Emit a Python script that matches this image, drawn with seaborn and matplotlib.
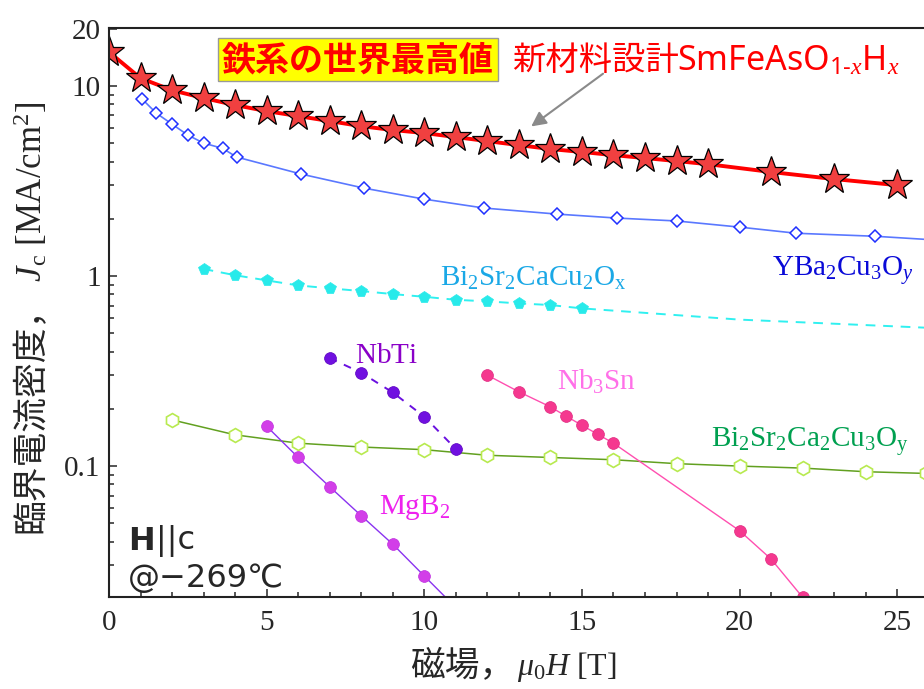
import numpy as np
import pandas as pd
import matplotlib
matplotlib.use("Agg")
import matplotlib.pyplot as plt
import seaborn as sns
from matplotlib.ticker import LogLocator, MultipleLocator, NullFormatter

sns.set_style("ticks")
plt.rcParams['font.family'] = ['Liberation Serif', 'Noto Sans CJK JP']
plt.rcParams['mathtext.fontset'] = 'custom'
plt.rcParams['mathtext.rm'] = 'Liberation Serif'
plt.rcParams['mathtext.it'] = 'Liberation Serif:italic'
plt.rcParams['mathtext.bf'] = 'Liberation Serif:bold'
plt.rcParams['mathtext.sf'] = 'Noto Sans'

# SmFeAsO1-xHx (stars)
sm_x = [0, 1, 2, 3, 4, 5, 6, 7, 8, 9, 10, 11, 12, 13, 14, 15, 16, 17, 18, 19, 21, 23, 25]
sm_y = [15.1, 11.0, 9.5, 8.65, 7.94, 7.38, 6.95, 6.54, 6.15, 5.87, 5.66, 5.39, 5.13,
        4.89, 4.66, 4.5, 4.33, 4.18, 4.03, 3.88, 3.53, 3.24, 3.01]

# YBa2Cu3Oy (open diamonds), last value is the end of the line only
ybco_x = [1.05, 1.5, 2.0, 2.5, 3.0, 3.6, 4.05, 6.1, 8.1, 10.0, 11.9, 14.2, 16.1, 18.0, 20.0, 21.8, 24.3, 25.9]
ybco_y = [8.54, 7.2, 6.3, 5.52, 5.01, 4.7, 4.23, 3.44, 2.9, 2.54, 2.28, 2.12, 2.02, 1.95, 1.81, 1.68, 1.62, 1.56]
ybco_n = 17

# Bi2Sr2CaCu2Ox (pentagons, dashed), last two values are line only
bi2212_x = [3, 4, 5, 6, 7, 8, 9, 10, 11, 12, 13, 14, 15, 20, 25.9]
bi2212_y = [1.09, 1.01, 0.949, 0.893, 0.862, 0.834, 0.804, 0.778, 0.75, 0.736, 0.718, 0.704, 0.676, 0.59, 0.535]
bi2212_n = 13

# NbTi (dashed)
nbti_x = [7, 8, 9, 10, 11]
nbti_y = [0.37, 0.31, 0.244, 0.182, 0.123]

# Nb3Sn
nb3sn_x = [12, 13, 14, 14.5, 15, 15.5, 16, 20, 21, 22]
nb3sn_y = [0.301, 0.246, 0.205, 0.183, 0.164, 0.147, 0.132, 0.0457, 0.0324, 0.0204]

# MgB2, last value is line only
mgb2_x = [5, 6, 7, 8, 9, 10, 11]
mgb2_y = [0.162, 0.111, 0.0778, 0.0548, 0.0388, 0.0264, 0.018]
mgb2_n = 6

# Bi2Sr2Ca2Cu3Oy (open hexagons)
bi2223_x = [2, 4, 6, 8, 10, 12, 14, 16, 18, 20, 22, 24, 25.9]
bi2223_y = [0.175, 0.146, 0.132, 0.126, 0.122, 0.114, 0.111, 0.108, 0.103, 0.1, 0.0976, 0.0934, 0.0915]

fig = plt.figure(figsize=(9.24, 6.89), dpi=100)
ax = fig.add_axes([0.118, 0.1335, 0.882, 0.8258])

sns.lineplot(x=bi2223_x, y=bi2223_y, ax=ax, color='#62a020', linewidth=1.1,
             marker='h', markersize=10, markerfacecolor='white',
             markeredgecolor='#b8ea50', markeredgewidth=1.2)
sns.lineplot(x=mgb2_x, y=mgb2_y, ax=ax, color='#8a33f0', linewidth=1.0,
             marker='o', markersize=8.5, markerfacecolor='#d23ee8',
             markeredgecolor='#c030e0', markeredgewidth=0.5, markevery=list(range(mgb2_n)))
sns.lineplot(x=nb3sn_x, y=nb3sn_y, ax=ax, color='#ff4fb0', linewidth=1.0,
             marker='o', markersize=8.5, markerfacecolor='#f5388f',
             markeredgecolor='#e02a80', markeredgewidth=0.5)
sns.lineplot(x=nbti_x, y=nbti_y, ax=ax, color='#6a10e0', linewidth=1.4, linestyle=(0, (4, 4)),
             marker='o', markersize=8.5, markerfacecolor='#7010e0',
             markeredgecolor='#5a00c0', markeredgewidth=0.5)
sns.lineplot(x=bi2212_x, y=bi2212_y, ax=ax, color='#30f0f0', linewidth=1.4, linestyle=(0, (5, 4)),
             marker='p', markersize=8.5, markerfacecolor='#28eaea',
             markeredgecolor='#28eaea', markeredgewidth=0.5, markevery=list(range(bi2212_n)))
sns.lineplot(x=ybco_x, y=ybco_y, ax=ax, color='#5a78ff', linewidth=1.2,
             marker='D', markersize=6, markerfacecolor='white',
             markeredgecolor='#2030ff', markeredgewidth=1.1, markevery=list(range(ybco_n)))
sns.lineplot(x=sm_x, y=sm_y, ax=ax, color='#ff0000', linewidth=2.8,
             marker='*', markersize=23, markerfacecolor='#f04040',
             markeredgecolor='black', markeredgewidth=0.9)

ax.set_yscale('log')
ax.set_xlim(0, 25.85)
ax.set_ylim(0.02046, 20.2)
ax.set_yticks([0.1, 1, 10, 20])
ax.set_yticklabels(['0.1', '1', '10', '20'])
ax.yaxis.set_minor_locator(LogLocator(base=10, subs=np.arange(2, 10)))
ax.yaxis.set_minor_formatter(NullFormatter())
ax.xaxis.set_major_locator(MultipleLocator(5))
ax.xaxis.set_minor_locator(MultipleLocator(1))
ax.tick_params(which='both', direction='in', top=False, right=False, width=1.1, labelsize=21)
ax.tick_params(which='major', length=6)
ax.tick_params(which='minor', length=3.5)
ax.tick_params(axis='x', pad=9)
ax.tick_params(axis='y', pad=6)
for s in ['left', 'bottom', 'top']:
    ax.spines[s].set_linewidth(1.5)
    ax.spines[s].set_color('#222222')
ax.spines['right'].set_visible(False)

# axis labels (CJK part and math part split)
ax.text(0.497, -0.137, '磁場，', transform=ax.transAxes, ha='right', va='baseline',
        fontsize=25, family=['Noto Sans CJK JP'])
ax.text(0.50, -0.137, r'$\mu_0H$ [T]', transform=ax.transAxes, ha='left', va='baseline',
        fontsize=23)
ax.text(-0.0957, 0.5395, '臨界電流密度，', transform=ax.transAxes, rotation=90,
        ha='center', va='top', fontsize=25, family=['Noto Sans CJK JP'])
ax.text(-0.0957, 0.5395, r' $J_\mathrm{c}$ [MA/cm$^2$]', transform=ax.transAxes, rotation=90,
        ha='center', va='bottom', fontsize=25)

# series labels
ax.text(10.5, 0.889, r'$\mathrm{Bi_2Sr_2CaCu_2O_x}$', color='#1aa8e6', fontsize=21, va='baseline')
ax.text(21.03, 1.0, r'$\mathrm{YBa_2Cu_3O}_y$', color='#0a0ad8', fontsize=21, va='baseline')
ax.text(7.8, 0.348, r'$\mathrm{NbTi}$', color='#8a00c8', fontsize=21, va='baseline')
ax.text(14.21, 0.251, r'$\mathrm{Nb_3Sn}$', color='#ff70e8', fontsize=21, va='baseline')
ax.text(19.1, 0.126, r'$\mathrm{Bi_2Sr_2Ca_2Cu_3O_y}$', color='#00a050', fontsize=21, va='baseline')
ax.text(8.57, 0.0559, r'$\mathrm{MgB_2}$', color='#ee22ee', fontsize=21, va='baseline')

# headline
ax.text(0.3055, 0.944, '鉄系の世界最高値', transform=ax.transAxes, ha='center', va='center',
        fontsize=24.5, fontweight='bold', color='#ff0000', family=['Noto Sans CJK JP'],
        bbox=dict(boxstyle='square,pad=0.12', facecolor='#ffff00', edgecolor='#999999', linewidth=1))
ax.text(0.4945, 0.926, '新材料設計', transform=ax.transAxes, ha='left', va='baseline',
        fontsize=24, color='#ff0000', family=['Noto Sans CJK JP'])
ax.text(0.697, 0.926, '$\\mathsf{SmFeAsO}_{\\mathsf{1\u2010}x}\\mathsf{H}_x$', transform=ax.transAxes,
        ha='left', va='baseline', fontsize=24.5, color='#ff0000')
ax.annotate('', xy=(13.32, 6.01), xytext=(15.74, 11.85),
            arrowprops=dict(arrowstyle='-|>', color='#8a8a8a', lw=1.5, mutation_scale=22))

# conditions
sans = ['DejaVu Sans']
tH = ax.text(0.023, 0.0826, 'H', transform=ax.transAxes, ha='left', va='baseline',
             fontsize=23, fontweight='bold', family=sans)
ax.annotate('||c', xy=(1, 0), xycoords=tH, xytext=(1, 0), textcoords='offset points',
            ha='left', va='bottom', fontsize=23, family=sans)
ax.text(0.023, 0.0182, '@−269℃', transform=ax.transAxes, ha='left', va='baseline',
        fontsize=23, family=sans)

fig.savefig('out.png', dpi=100)
